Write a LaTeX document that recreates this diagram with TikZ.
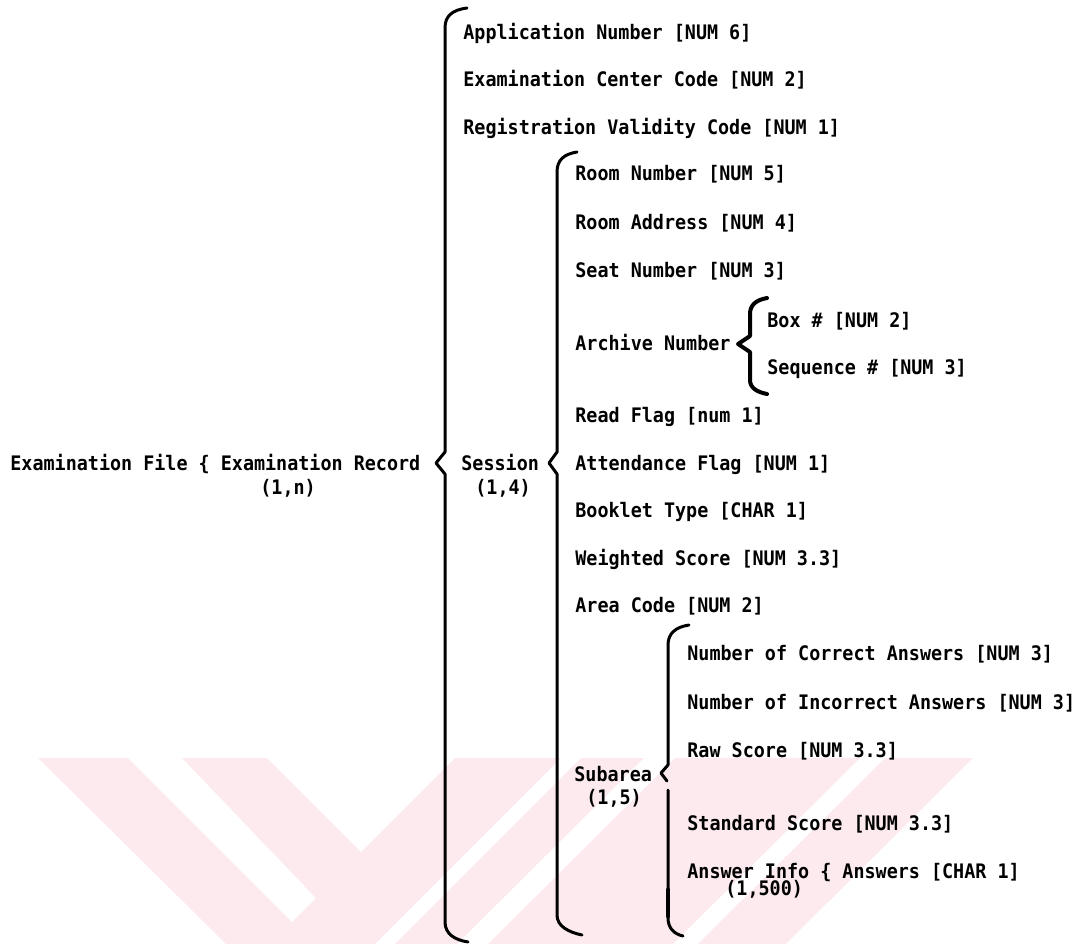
\documentclass[tikz,border=0pt]{standalone}
\usepackage{fontspec}
\usetikzlibrary{positioning}
\newfontfamily\printfont[FakeStretch=0.92]{DejaVu Sans Mono}
\definecolor{wmpink}{RGB}{253,234,238}

\begin{document}
\begin{tikzpicture}[x=0.5pt, y=-0.5pt, line cap=round, line join=round,
    field/.style={anchor=base west, inner sep=0pt, font=\printfont\bfseries},
    brace/.style={line width=1.5pt}]
    \useasboundingbox (0,0) rectangle (1087,944);

    % Watermark
    \fill[wmpink, even odd rule] (38,758) -- (267,758) -- (361,852) -- (455,758) -- (561,758) -- (375,944) -- (226,944) -- cycle
        (128,758) -- (182,758) -- (316,898) -- (292,922) -- cycle;
    \fill[wmpink, even odd rule] (581,758) -- (973,758) -- (786,944) -- (395,944) -- cycle
        (644,758) -- (675,758) -- (488,944) -- (457,944) -- cycle
        (860,758) -- (885,758) -- (698,944) -- (673,944) -- cycle;

    % Examination record
    \node[field] (exfile) at (10,470) {Examination File \{ Examination Record};
    \node[field] (exrep) at (260,494) {(1,n)};
    \draw[brace] (467,8) .. controls (452,10) and (445,16) .. (445,28) -- (445,452) -- (436,463) -- (445,474)
        -- (445,922) .. controls (445,934) and (455,940) .. (468,942);
    \node[field] (appno) at (463,39) {Application Number [NUM 6]};
    \node[field] (centre) at (463,86) {Examination Center Code [NUM 2]};
    \node[field] (regcode) at (463,134) {Registration Validity Code [NUM 1]};

    % Session
    \node[field] (session) at (461,470) {Session};
    \node[field] (sessrep) at (475,494) {(1,4)};
    \draw[brace] (577,152) .. controls (564,154) and (557,160) .. (557,172) -- (557,452) -- (549,463) -- (557,474)
        -- (557,915) .. controls (557,926) and (568,932) .. (582,935);
    \node[field] (roomno) at (575,180) {Room Number [NUM 5]};
    \node[field] (roomaddr) at (575,229) {Room Address [NUM 4]};
    \node[field] (seatno) at (575,277) {Seat Number [NUM 3]};
    \node[field] (archive) at (575,350) {Archive Number};
    \node[field] (readflag) at (575,422) {Read Flag [num 1]};
    \node[field] (attend) at (575,470) {Attendance Flag [NUM 1]};
    \node[field] (booklet) at (575,517) {Booklet Type [CHAR 1]};
    \node[field] (wscore) at (575,565) {Weighted Score [NUM 3.3]};
    \node[field] (areacode) at (575,612) {Area Code [NUM 2]};

    % Archive number
    \draw[line width=2pt] (767,298) .. controls (756,300) and (750,305) .. (750,314) -- (750,336) -- (738,344) -- (750,352)
        -- (750,380) .. controls (750,388) and (757,392) .. (767,394);
    \node[field] (boxno) at (767,327) {Box \# [NUM 2]};
    \node[field] (seqno) at (767,374) {Sequence \# [NUM 3]};

    % Subarea
    \node[field] (subarea) at (574,781) {Subarea};
    \node[field] (subrep) at (586,804) {(1,5)};
    \draw[brace] (689,625) .. controls (676,627) and (668,633) .. (668,645) -- (668,765) -- (661,773) -- (667,781);
    \draw[brace] (668,790) -- (668,918) .. controls (668,928) and (674,934) .. (683,936);
    \draw[line width=2.4pt] (668,890) -- (668,916);
    \node[field] (correct) at (687,660) {Number of Correct Answers [NUM 3]};
    \node[field] (incorrect) at (687,709) {Number of Incorrect Answers [NUM 3]};
    \node[field] (rawscore) at (687,757) {Raw Score [NUM 3.3]};
    \node[field] (stdscore) at (687,830) {Standard Score [NUM 3.3]};
    \node[field] (answer) at (687,878) {Answer Info \{ Answers [CHAR 1]};
    \node[field] (ansrep) at (725,895) {(1,500)};
\end{tikzpicture}
\end{document}
